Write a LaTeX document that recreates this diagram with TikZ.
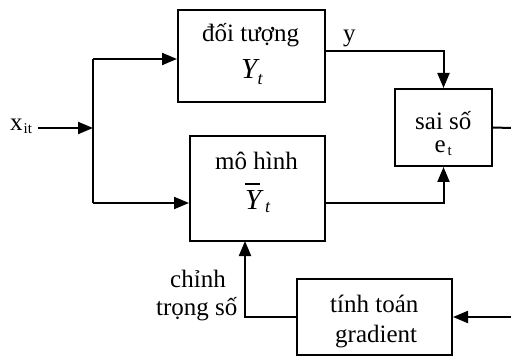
\documentclass[tikz,border=0pt]{standalone}
\usepackage{fontspec}
\setmainfont{Liberation Serif}
\usetikzlibrary{arrows.meta}
\tikzset{
  blk/.style={draw, line width=2pt, inner sep=0pt},
  wire/.style={line width=2pt},
  arr/.style={wire, -{Triangle[length=15pt,width=12pt]}},
  txt/.style={inner sep=0pt, anchor=base west, font=\fontsize{25}{30}\selectfont},
  mvar/.style={inner sep=0pt, anchor=base west, font=\fontsize{29}{34}\selectfont\itshape},
  msub/.style={inner sep=0pt, anchor=base west, font=\fontsize{18}{20}\selectfont\itshape},
  tsub/.style={inner sep=0pt, anchor=base west, font=\fontsize{15}{17}\selectfont},
}
\begin{document}
\begin{tikzpicture}[x=1pt, y=-1pt]
  \useasboundingbox (0,0) rectangle (511,358);

  % blocks
  \node[blk, minimum width=147pt, minimum height=92pt] (obj) at (251.5,56) {};
  \node[blk, minimum width=135pt, minimum height=105pt] (model) at (257.5,188.5) {};
  \node[blk, minimum width=97pt, minimum height=77pt] (err) at (443.5,127.5) {};
  \node[blk, minimum width=155pt, minimum height=76pt] (grad) at (374.5,317) {};

  % block texts
  \node[txt] (tobj) at (202,42) {đối tượng};
  \node[mvar] (tobjY) at (241,79) {Y};
  \node[msub] (tobjT) at (257.5,85) {t};

  \node[txt] (tmod) at (215,170) {mô hình};
  \node[mvar] (tmodY) at (245,209) {Y};
  \node[msub] (tmodT) at (265,212) {t};
  \draw[line width=1.4pt] ([yshift=6pt]tmodY.north west) -- ([yshift=6pt,xshift=-2pt]tmodY.north east);

  \node[txt] (terr) at (415,130) {sai số};
  \node[txt] (terrE) at (434.5,153) {e};
  \node[tsub] (terrT) at (447.5,156) {t};

  \node[txt] (tgrad1) at (330,312) {tính toán};
  \node[txt] (tgrad2) at (335,342) {gradient};

  % signal labels
  \node[txt] (xlab) at (10,131) {x};
  \node[tsub] (xsub) at (23.5,134) {it};
  \node[txt] (ylab) at (343,42) {y};
  \node[txt] (adj1) at (170,287) {chỉnh};
  \node[txt] (adj2) at (156,315) {trọng số};

  % connection points
  \coordinate (xin) at (38,128);
  \coordinate (fork) at (93,128);
  \coordinate (ftop) at (93,59);
  \coordinate (fbot) at (93,203);
  \coordinate (yout) at (325,51);
  \coordinate (mout) at (325,203);
  \coordinate (eout) at (511,128);
  \coordinate (gin) at (511,317);
  \coordinate (mfb) at (245,241);

  % connectors
  \draw[arr] (xin) -- (fork);
  \draw[wire] (ftop) -- (fbot);
  \draw[arr] (ftop) -- (ftop -| obj.west);
  \draw[arr] (fbot) -- (fbot -| model.west);
  \draw[arr] (yout) -| (err.north);
  \draw[arr] (mout) -| (err.south);
  \draw[wire] (err.east) -- (eout);
  \draw[arr] (gin) -- (grad.east);
  \draw[arr] (grad.west) -| (mfb);
\end{tikzpicture}
\end{document}
